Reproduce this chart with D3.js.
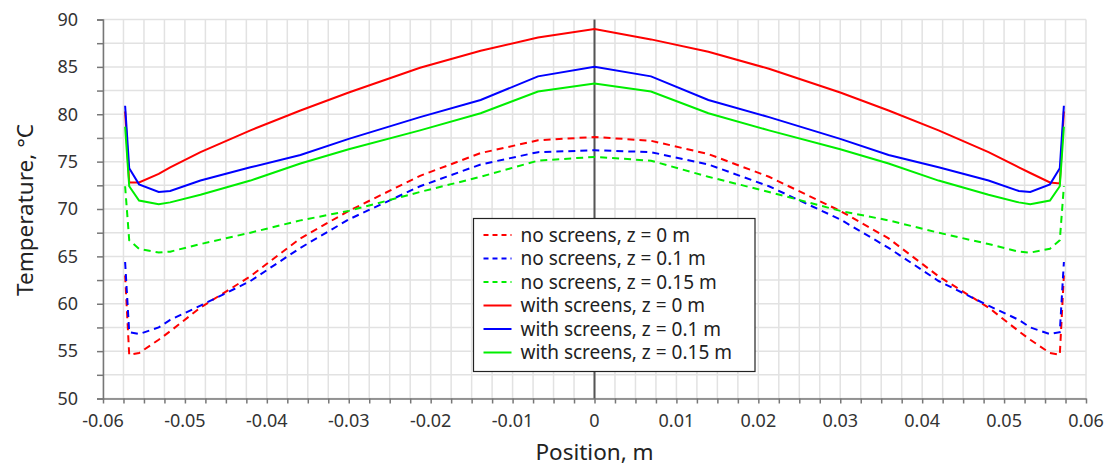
<!DOCTYPE html>
<html>
<head>
<meta charset="utf-8">
<script src="https://cdn.jsdelivr.net/npm/d3@7"></script>
<style>
  body { margin: 0; background: #fff; }
  svg { display: block; font-family: "Noto Sans", "Open Sans", sans-serif; }
</style>
</head>
<body>
<div id="chart"></div>
<script>
// positions (m) shared by all six curves
const positions = [-0.0573, -0.0568, -0.0556, -0.0532, -0.0518, -0.0481, -0.042, -0.0359, -0.03, -0.0213, -0.0139, -0.0069, 0,
  0.0069, 0.0139, 0.0213, 0.03, 0.0359, 0.042, 0.0481, 0.0518, 0.0532, 0.0556, 0.0568, 0.0573];

// temperatures (°C)
const noScreensZ0 = [63.0, 54.6, 54.8, 56.2, 57.1, 59.6, 62.9, 66.9, 69.8, 73.5, 75.9, 77.25, 77.6,
  77.2, 75.8, 73.4, 69.8, 66.9, 62.9, 59.6, 57.1, 56.2, 54.8, 54.6, 63.0];
const noScreensZ01 = [64.4, 57.0, 56.8, 57.5, 58.3, 59.8, 62.4, 65.9, 68.9, 72.4, 74.7, 76.0, 76.2,
  76.0, 74.7, 72.4, 68.9, 65.9, 62.4, 59.8, 58.3, 57.5, 56.8, 57.0, 64.4];
const noScreensZ015 = [72.4, 66.7, 65.8, 65.4, 65.5, 66.3, 67.5, 68.8, 69.8, 71.8, 73.4, 75.1, 75.5,
  75.1, 73.4, 71.8, 69.8, 68.8, 67.5, 66.3, 65.5, 65.4, 65.8, 66.7, 72.4];
const screensZ0 = [80.3, 72.8, 72.8, 73.7, 74.4, 76.0, 78.3, 80.4, 82.3, 84.9, 86.7, 88.1, 89.0,
  87.9, 86.6, 84.8, 82.3, 80.4, 78.3, 76.0, 74.4, 73.8, 72.8, 72.7, 80.3];
const screensZ01 = [80.9, 74.3, 72.6, 71.8, 71.9, 73.0, 74.4, 75.7, 77.4, 79.7, 81.5, 84.0, 85.0,
  84.0, 81.5, 79.7, 77.4, 75.7, 74.4, 73.0, 71.9, 71.8, 72.6, 74.3, 80.9];
const screensZ015 = [78.7, 72.4, 70.9, 70.5, 70.7, 71.5, 73.0, 74.8, 76.3, 78.3, 80.1, 82.4, 83.25,
  82.4, 80.1, 78.3, 76.3, 74.8, 73.0, 71.5, 70.7, 70.5, 70.9, 72.4, 78.7];

const seriesNames = ['no screens, z = 0 m', 'no screens, z = 0.1 m', 'no screens, z = 0.15 m',
  'with screens, z = 0 m', 'with screens, z = 0.1 m', 'with screens, z = 0.15 m'];
const seriesValues = [noScreensZ0, noScreensZ01, noScreensZ015, screensZ0, screensZ01, screensZ015];
const seriesColors = ['#ff0000', '#0000ff', '#00ee00', '#ff0000', '#0000ff', '#00ee00'];
const seriesDashed = [true, true, true, false, false, false];

const xTicks = [-0.06, -0.05, -0.04, -0.03, -0.02, -0.01, 0, 0.01, 0.02, 0.03, 0.04, 0.05, 0.06];
const xTickLabels = ['-0.06', '-0.05', '-0.04', '-0.03', '-0.02', '-0.01', '0', '0.01', '0.02', '0.03', '0.04', '0.05', '0.06'];
const yTicks = [50, 55, 60, 65, 70, 75, 80, 85, 90];

const width = 1110, height = 466;
const margin = { top: 19.5, right: 24, bottom: 67.5, left: 103 };

const svg = d3.select('#chart').append('svg')
  .attr('width', width)
  .attr('height', height);

const x = d3.scaleLinear().domain([-0.06, 0.06]).range([margin.left, width - margin.right]);
const y = d3.scaleLinear().domain([50, 90]).range([height - margin.bottom, margin.top]);

// gridlines every 0.0025 m and 2.5 °C
const xMinor = d3.range(-0.06, 0.06001, 0.0025);
const yMinor = d3.range(50, 90.001, 2.5);

svg.append('g').selectAll('line').data(xMinor).enter().append('line')
  .attr('x1', d => x(d)).attr('x2', d => x(d))
  .attr('y1', y(50)).attr('y2', y(90))
  .attr('stroke', '#e2e2e2').attr('stroke-width', 1.5);

svg.append('g').selectAll('line').data(yMinor).enter().append('line')
  .attr('x1', x(-0.06)).attr('x2', x(0.06))
  .attr('y1', d => y(d)).attr('y2', d => y(d))
  .attr('stroke', '#e2e2e2').attr('stroke-width', 1.5);

// left axis
const yAxis = d3.axisLeft(y).tickValues(yMinor).tickSize(6).tickFormat('');
svg.append('g')
  .attr('transform', `translate(${x(-0.06)},0)`)
  .call(yAxis)
  .call(g => g.select('.domain').attr('stroke', '#777').attr('stroke-width', 1.5))
  .call(g => g.selectAll('.tick line').attr('stroke', '#777').attr('stroke-width', 1.5));

svg.append('g').selectAll('text').data(yTicks).enter().append('text')
  .attr('x', 78)
  .attr('y', d => y(d))
  .attr('dy', '0.35em')
  .attr('text-anchor', 'end')
  .attr('font-size', 18)
  .attr('fill', '#333')
  .text(d => d);

// bottom axis
const xAxis = d3.axisBottom(x).tickValues(xMinor).tickSize(5).tickSizeOuter(0).tickFormat('');
svg.append('g')
  .attr('transform', `translate(0,${y(50)})`)
  .call(xAxis)
  .call(g => g.select('.domain').attr('stroke', '#777').attr('stroke-width', 1.5))
  .call(g => g.selectAll('.tick line').attr('stroke', '#777').attr('stroke-width', 1.5));

svg.append('g').selectAll('text').data(xTicks).enter().append('text')
  .attr('x', d => x(d))
  .attr('y', 427)
  .attr('text-anchor', 'middle')
  .attr('font-size', 18)
  .attr('fill', '#333')
  .text((d, i) => xTickLabels[i]);

// zero line
svg.append('line')
  .attr('x1', x(0)).attr('x2', x(0))
  .attr('y1', y(90)).attr('y2', y(50))
  .attr('stroke', '#555').attr('stroke-width', 2);

// curves
const line = d3.line()
  .x((d, i) => x(positions[i]))
  .y(d => y(d));

seriesValues.forEach((vals, i) => {
  svg.append('path')
    .datum(vals)
    .attr('fill', 'none')
    .attr('stroke', seriesColors[i])
    .attr('stroke-width', 2)
    .attr('stroke-dasharray', seriesDashed[i] ? '7,5' : null)
    .attr('d', line);
});

// axis titles
svg.append('text')
  .attr('x', x(0))
  .attr('y', 460)
  .attr('text-anchor', 'middle')
  .attr('font-size', 22.5)
  .attr('fill', '#222')
  .text('Position, m');

svg.append('text')
  .attr('transform', `translate(33,${(y(50) + y(90)) / 2 + 1}) rotate(-90)`)
  .attr('text-anchor', 'middle')
  .attr('font-size', 22.5)
  .attr('fill', '#222')
  .text('Temperature, °C');

// legend
const legend = svg.append('g').attr('transform', 'translate(473.5,218.5)');
legend.append('rect')
  .attr('width', 281.5).attr('height', 153)
  .attr('fill', '#fff').attr('stroke', '#222').attr('stroke-width', 1.2);

seriesNames.forEach((name, i) => {
  const row = legend.append('g').attr('transform', `translate(0,${16.5 + i * 23.5})`);
  row.append('line')
    .attr('x1', 10).attr('x2', 38)
    .attr('stroke', seriesColors[i]).attr('stroke-width', 2)
    .attr('stroke-dasharray', seriesDashed[i] ? '5,4' : null);
  row.append('text')
    .attr('x', 47).attr('dy', '0.35em')
    .attr('font-size', 19)
    .attr('fill', '#222')
    .text(name);
});
</script>
</body>
</html>
